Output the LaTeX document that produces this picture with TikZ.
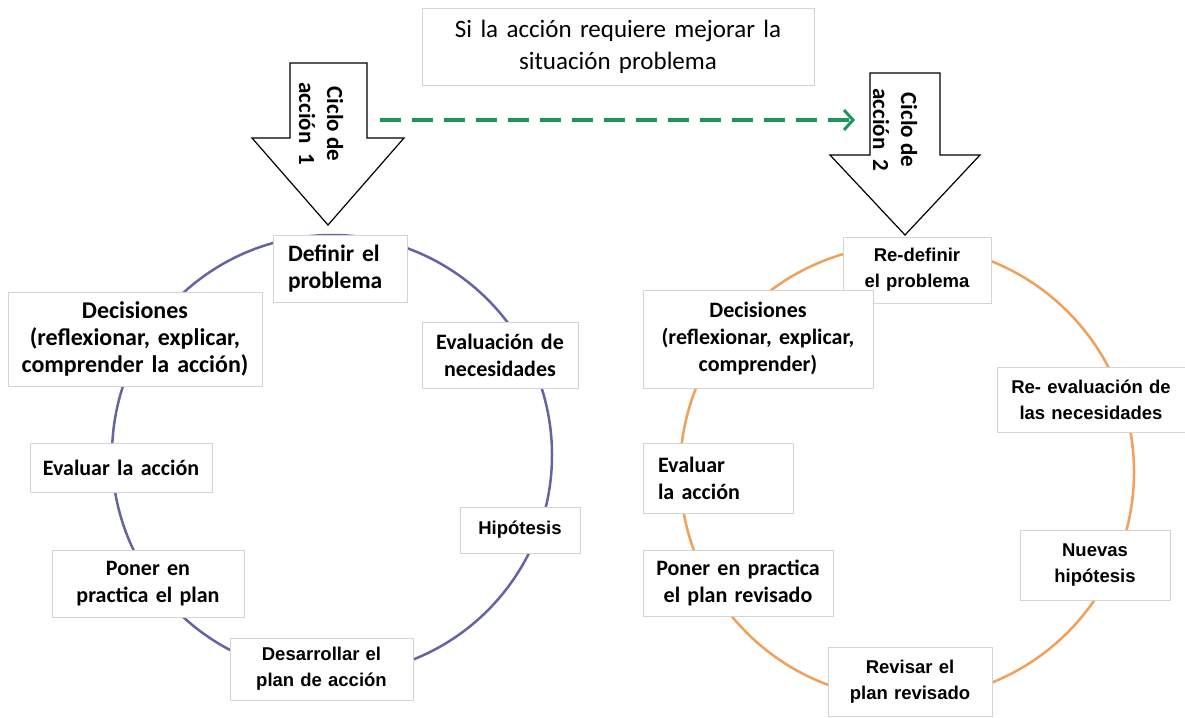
\documentclass[tikz,border=0pt]{standalone}
\usepackage{fontspec}
\setmainfont{Carlito}
\newfontfamily\arialf{Liberation Sans}
\usetikzlibrary{arrows.meta}
\definecolor{boxline}{RGB}{212,212,212}
\definecolor{cycA}{RGB}{100,100,165}
\definecolor{cycB}{RGB}{240,160,90}
\definecolor{dgreen}{RGB}{30,150,90}
\tikzset{
  box/.style={draw=boxline, fill=white, line width=0.8pt, inner xsep=0pt, inner ysep=0pt,
    align=center, font=\fontsize{22}{27}\selectfont\bfseries},
  boxa/.style={box, font=\fontsize{18.5}{26}\selectfont\arialf\bfseries},
  cycle/.style={circle, draw, line width=2.5pt, inner sep=0pt, minimum size=#1},
  bigarrow/.style={draw=black, fill=white, line width=1.2pt, line join=miter},
  arrtext/.style={rotate=-90, align=center, font=\fontsize{23}{28}\selectfont\bfseries},
  garrow/.style={draw=dgreen, line width=3.5pt, dash pattern=on 21pt off 11pt,
    -{Straight Barb[length=9pt,width=20pt,line width=3pt]}}
}
\begin{document}
\begin{tikzpicture}[x=1pt,y=-1pt]
\useasboundingbox (0,0) rectangle (1185,717);
\fill[white] (0,0) rectangle (1185,717);
% cycles
\node[cycle=440pt, draw=cycA] (cA) at (332,455) {};
\node[cycle=454pt, draw=cycB] (cB) at (907,472) {};
% top box
\node[box, font=\fontsize{25}{32}\selectfont, text width=392pt, minimum height=77pt] (top) at (618,46.5) {Si la acción requiere mejorar la\\situación problema};
% left cycle
\node[box, font=\fontsize{23.5}{27}\selectfont\bfseries, text width=104pt, inner xsep=15pt, align=left, minimum height=67pt] (d1) at (340,268.5) {Definir el\\problema};
\node[box, font=\fontsize{24}{27}\selectfont\bfseries, text width=254pt, minimum height=94pt] (dec1) at (135,339) {Decisiones\\(reflexionar, explicar,\\comprender la acción)};
\node[box, text width=156pt, minimum height=66pt] (ev1) at (500,355) {Evaluación de\\necesidades};
\node[box, text width=182pt, minimum height=49pt] (eva1) at (121,467.5) {Evaluar la acción};
\node[boxa, text width=120pt, minimum height=46pt] (hip1) at (520,530) {Hipótesis};
\node[box, text width=192pt, minimum height=67pt] (pon1) at (148,583.5) {Poner en\\practica el plan};
\node[boxa, text width=183pt, minimum height=62pt] (des1) at (321.5,669) {Desarrollar el\\plan de acción};
% right cycle
\node[boxa, text width=148pt, minimum height=66pt] (d2) at (917,270) {Re-definir\\el problema};
\node[box, text width=230pt, minimum height=98pt] (dec2) at (758,339) {Decisiones\\(reflexionar, explicar,\\comprender)};
\node[boxa, text width=188pt, minimum height=65pt] (ev2) at (1091,399.5) {Re- evaluación de\\las necesidades};
\node[box, text width=120pt, inner xsep=15pt, align=left, minimum height=70pt] (eva2) at (718,478) {Evaluar\\la acción};
\node[boxa, text width=150pt, minimum height=70pt] (nh2) at (1095,565) {Nuevas\\hipótesis};
\node[box, text width=190pt, minimum height=66pt] (pon2) at (738,583) {Poner en practica\\el plan revisado};
\node[boxa, text width=164pt, minimum height=69pt] (rev2) at (910,682) {Revisar el\\plan revisado};
% big arrows
\draw[bigarrow] (290,63) -- (367,63) -- (367,138) -- (404,138) -- (328,225) -- (252,138) -- (290,138) -- cycle;
\node[arrtext] (c1) at (321,124) {Ciclo de\\acción~~1};
\draw[bigarrow] (870,73) -- (940,73) -- (940,155) -- (980,155) -- (905,235) -- (830,155) -- (870,155) -- cycle;
\node[arrtext] (c2) at (895,130) {Ciclo de\\acción~~2};
% dashed connector
\coordinate (gs) at (380,120);
\coordinate (ge) at (855,120);
\draw[garrow] (gs) -- (ge);
\end{tikzpicture}
\end{document}
